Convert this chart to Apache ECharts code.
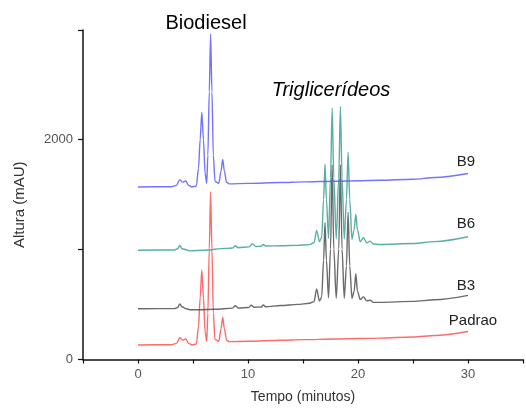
<!DOCTYPE html>
<html>
<head>
<meta charset="utf-8">
<script src="https://cdn.jsdelivr.net/npm/echarts@6/dist/echarts.min.js"></script>
<style>
html,body{margin:0;padding:0;background:#fff;}
#chart{width:526px;height:410px;}
</style>
</head>
<body>
<div id="chart"></div>
<script>
// Time (minutes) vs height (mAU)
const padraoData = [
  [0,132],[3.0,134],[3.5,146],[3.8,198],[4.05,176],[4.35,186],[4.6,146],[4.9,132],[5.3,140],
  [5.5,300],[5.65,560],[5.8,812],[5.95,560],[6.1,250],[6.25,165],
  [6.35,420],[6.48,1000],[6.6,1522],[6.72,1000],[6.85,420],[7.0,180],
  [7.35,166],[7.55,280],[7.7,384],[7.85,280],[8.05,175],[8.3,162],
  [10,165],[13,175],[15,180],[18,186],[20,190],[22,194],[25,204],[27,218],[30,254]
];
const b3Data = [
  [0,460],[3.3,462],[3.6,472],[3.8,505],[4.0,478],[4.4,460],[4.7,452],[5.5,452],[7,456],
  [8.6,466],[8.85,488],[9.1,468],[10.05,472],[10.3,492],[10.55,474],[11.2,476],[11.4,494],[11.6,478],
  [13,490],[14.5,500],[15.6,510],[16.0,525],[16.24,640],[16.5,530],[16.7,570],
  [16.87,900],[17.0,1242],[17.13,900],[17.32,560],[17.5,1000],[17.65,1765],[17.8,1000],[18.02,555],
  [18.25,1000],[18.4,1767],[18.55,1000],[18.75,555],[18.95,850],[19.1,1335],[19.25,850],[19.45,555],
  [19.65,620],[19.8,779],[19.95,620],[20.2,545],[20.5,568],[20.8,532],[21.1,538],[21.4,518],
  [22,518],[25,527],[27,542],[30,582]
];
const b6Data = [
  [0,992],[3.3,994],[3.6,1005],[3.8,1035],[4.0,1005],[4.4,996],[4.7,986],[6,992],[8,1008],
  [8.6,1012],[8.85,1032],[9.1,1014],[10.1,1022],[10.4,1050],[10.7,1026],[11.2,1028],[11.4,1044],[11.6,1030],
  [13,1032],[14.5,1036],[15.6,1042],[16.0,1060],[16.24,1171],[16.5,1070],[16.7,1110],
  [16.87,1450],[17.0,1773],[17.13,1450],[17.32,1100],[17.5,1650],[17.65,2281],[17.8,1650],[18.02,1095],
  [18.25,1650],[18.4,2295],[18.55,1650],[18.75,1095],[18.95,1450],[19.1,1880],[19.25,1450],[19.45,1090],
  [19.65,1180],[19.8,1317],[19.95,1180],[20.2,1068],[20.5,1105],[20.8,1058],[21.1,1074],[21.4,1048],
  [22,1044],[25,1053],[27,1070],[30,1114]
];
const b9Data = [
  [0,1566],[3.0,1568],[3.5,1580],[3.8,1632],[4.05,1610],[4.35,1620],[4.6,1580],[4.9,1566],[5.3,1574],
  [5.5,1735],[5.65,1995],[5.8,2245],[5.95,1995],[6.1,1690],[6.25,1598],
  [6.35,1855],[6.48,2430],[6.6,2955],[6.72,2430],[6.85,1855],[7.0,1615],
  [7.35,1600],[7.55,1712],[7.7,1815],[7.85,1712],[8.05,1608],[8.3,1594],
  [10,1598],[13,1606],[15,1612],[18,1618],[20,1622],[22,1626],[25,1636],[27,1652],[30,1688]
];
const xTickLabels = [0, 10, 20, 30];
const yTickLabels = [0, 2000];
const seriesNames = ['Padrao', 'B3', 'B6', 'B9'];

const chart = echarts.init(document.getElementById('chart'), null, {renderer: 'canvas'});
const FONT = '"Liberation Sans", Arial, sans-serif';
function line(name, data, color, z) {
  return {
    name: name, type: 'line', data: data, showSymbol: false, symbol: 'none',
    smooth: 0.3, smoothMonotone: 'x', z: z,
    lineStyle: {color: color, width: 1.4},
    emphasis: {disabled: true}, animation: false
  };
}
chart.setOption({
  animation: false,
  grid: {left: 83, right: -4, top: 30, bottom: 50.5, containLabel: false},
  xAxis: {
    type: 'value', min: -5, max: 35, interval: 5,
    name: 'Tempo (minutos)', nameLocation: 'middle', nameGap: 31,
    nameTextStyle: {fontFamily: FONT, fontSize: 14, color: '#333'},
    axisLine: {show: true, onZero: false, lineStyle: {color: '#111', width: 1.5}},
    axisTick: {show: true, length: 4, lineStyle: {color: '#111', width: 1.2}},
    axisLabel: {
      fontFamily: FONT, fontSize: 13, color: '#555', margin: 8,
      formatter: v => xTickLabels.indexOf(v) >= 0 ? String(v) : ''
    },
    splitLine: {show: false}
  },
  yAxis: {
    type: 'value', min: 0, max: 2990, interval: 1000,
    name: 'Altura (mAU)', nameLocation: 'middle', nameGap: 56,
    nameTextStyle: {fontFamily: FONT, fontSize: 15, color: '#333', padding: [0, 20, 0, 0]},
    axisLine: {show: true, onZero: false, lineStyle: {color: '#111', width: 1.5}},
    axisTick: {show: true, length: 5, lineStyle: {color: '#111', width: 1.2}},
    axisLabel: {
      fontFamily: FONT, fontSize: 13, color: '#555', margin: 10,
      formatter: v => yTickLabels.indexOf(v) >= 0 ? String(v) : ''
    },
    splitLine: {show: false}
  },
  series: [
    line(seriesNames[0], padraoData, 'rgba(255,80,80,0.85)', 2),
    line(seriesNames[2], b6Data, 'rgba(60,160,150,0.85)', 3),
    line(seriesNames[1], b3Data, 'rgba(70,70,70,0.8)', 4),
    line(seriesNames[3], b9Data, 'rgba(90,90,255,0.85)', 5)
  ],
  graphic: [
    {type: 'text', style: {text: 'Biodiesel', x: 206, y: 23, align: 'center', verticalAlign: 'middle', font: '20px ' + FONT, fill: '#000'}},
    {type: 'text', style: {text: 'Triglicerídeos', x: 331, y: 90, align: 'center', verticalAlign: 'middle', font: 'italic 20px ' + FONT, fill: '#000'}},
    {type: 'text', style: {text: 'B9', x: 466, y: 162, align: 'center', verticalAlign: 'middle', font: '15px ' + FONT, fill: '#222'}},
    {type: 'text', style: {text: 'B6', x: 466, y: 224, align: 'center', verticalAlign: 'middle', font: '15px ' + FONT, fill: '#222'}},
    {type: 'text', style: {text: 'B3', x: 466, y: 286, align: 'center', verticalAlign: 'middle', font: '15px ' + FONT, fill: '#222'}},
    {type: 'text', style: {text: 'Padrao', x: 473, y: 321, align: 'center', verticalAlign: 'middle', font: '15px ' + FONT, fill: '#222'}}
  ]
});
</script>
</body>
</html>
